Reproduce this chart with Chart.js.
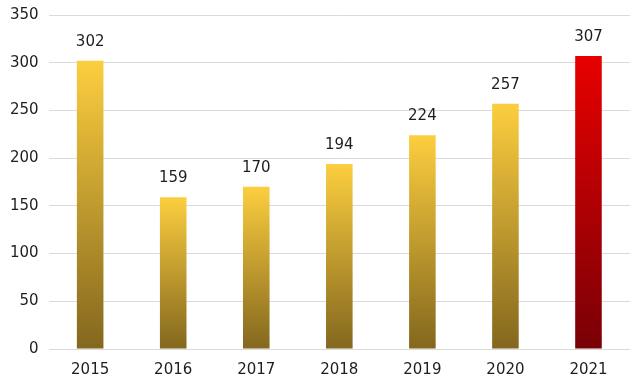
<!DOCTYPE html>
<html>
<head>
<meta charset="utf-8">
<script src="https://cdn.jsdelivr.net/npm/chart.js@4"></script>
<style>
  html, body { margin: 0; padding: 0; background: #fff; }
  canvas { display: block; }
</style>
</head>
<body>
<canvas id="grafico" width="640" height="385"></canvas>
<script>
// datos del gráfico
const anios = ['2015', '2016', '2017', '2018', '2019', '2020', '2021'];
const valores = [302, 159, 170, 194, 224, 257, 307];
const ticksY = [0, 50, 100, 150, 200, 250, 300, 350];

const FUENTE = { family: 'DejaVu Sans', size: 15 };

// degradado por barra, desde la parte superior hasta la base
function colorBarra(context) {
    const chart = context.chart;
    const area = chart.chartArea;
    const ultimo = context.dataIndex === valores.length - 1;
    if (!area) return ultimo ? '#d00000' : '#e0b030';
    const y = chart.scales.y;
    const top = y.getPixelForValue(context.raw);
    const bottom = y.getPixelForValue(0);
    const g = chart.ctx.createLinearGradient(0, top, 0, bottom);
    if (ultimo) {
        g.addColorStop(0, '#e80000');
        g.addColorStop(1, '#780006');
    } else {
        g.addColorStop(0, '#fcce3f');
        g.addColorStop(1, '#83671e');
    }
    return g;
}

// etiquetas de valor encima de cada barra
const etiquetas = {
    id: 'etiquetas',
    afterDatasetsDraw(chart) {
        const ctx = chart.ctx;
        const meta = chart.getDatasetMeta(0);
        ctx.save();
        ctx.font = FUENTE.size + 'px ' + FUENTE.family;
        ctx.fillStyle = '#1e1e1e';
        ctx.textAlign = 'center';
        ctx.textBaseline = 'alphabetic';
        meta.data.forEach((bar, i) => {
            ctx.fillText(valores[i], bar.x, bar.y - 15);
        });
        ctx.restore();
    }
};

new Chart(document.getElementById('grafico'), {
    type: 'bar',
    data: {
        labels: anios,
        datasets: [{
            data: valores,
            backgroundColor: colorBarra,
            borderWidth: 0,
            barPercentage: 0.4,
            categoryPercentage: 0.8
        }]
    },
    options: {
        responsive: false,
        animation: false,
        layout: { padding: { top: 0, right: 10, left: 0, bottom: -6 } },
        plugins: {
            legend: { display: false },
            tooltip: { enabled: false }
        },
        scales: {
            x: {
                grid: { display: false, drawTicks: false },
                border: { display: false },
                ticks: { color: '#1e1e1e', font: FUENTE, padding: 12 }
            },
            y: {
                min: 0,
                max: 350,
                afterBuildTicks: (axis) => { axis.ticks = ticksY.map(v => ({ value: v })); },
                grid: { color: '#dadada', lineWidth: 1, drawTicks: false },
                border: { display: false },
                ticks: { color: '#1e1e1e', font: { family: FUENTE.family, size: FUENTE.size, lineHeight: 0.67 }, padding: 10 }
            }
        }
    },
    plugins: [etiquetas]
});
</script>
</body>
</html>
